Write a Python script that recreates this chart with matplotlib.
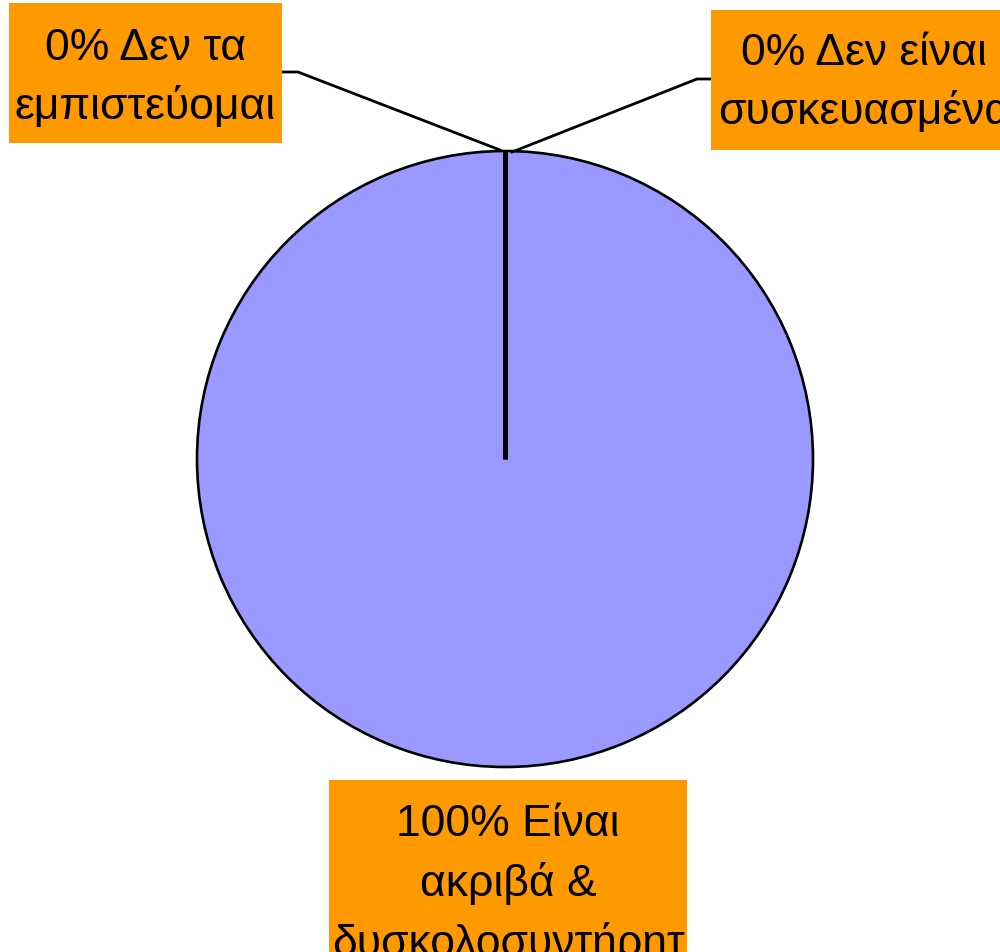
import matplotlib
matplotlib.use("Agg")
import numpy as np
import matplotlib.pyplot as plt
from matplotlib.patches import Rectangle

plt.rcParams['font.family'] = ['Liberation Sans', 'DejaVu Sans']

# Survey answers and their shares (%)
labels = ["Δεν τα\nεμπιστεύομαι", "Δεν είναι\nσυσκευασμένα",
          "Είναι\nακριβά &\nδυσκολοσυντήρητ\nα"]
shares = [0, 0, 100]

W, H = 1000, 953
fig = plt.figure(figsize=(W / 100, H / 100), dpi=100)
ax = fig.add_axes([0, 0, 1, 1])

cx, cy, r = 505, H - 460, 308
wedges, _ = ax.pie(shares, colors=["#9999FF"] * 3, startangle=90,
                   counterclock=False, center=(cx, cy), radius=r,
                   wedgeprops=dict(edgecolor="black", linewidth=1.9))

# radial edges of the empty slices
for w, s in zip(wedges, shares):
    if s == 0:
        a = np.deg2rad(w.theta1)
        ax.plot([cx, cx + r * np.cos(a)], [cy, cy + r * np.sin(a)],
                color="black", lw=3.4, solid_capstyle="butt", zorder=3)

ax.set_xlim(0, W)
ax.set_ylim(0, H)
ax.set_aspect("equal")
ax.axis("off")

fs = 32
ls = 1.5
orange = "#FF9900"
texts = [f"{s}% {l}" for s, l in zip(shares, labels)]
top = (cx, cy + r)


def label_box(x0, y0, x1, y1):
    ax.add_patch(Rectangle((x0, H - y1), x1 - x0, y1 - y0, fc=orange,
                           ec="none", zorder=4))


# left label
label_box(9, 4, 282, 144)
ax.text(145.5, H - 78, texts[0], ha="center", va="center", fontsize=fs,
        linespacing=ls, zorder=5)
ax.plot([282, 298, top[0] - 5], [H - 73, H - 73, top[1] + 1], color="black",
        lw=2.0, zorder=3)

# right label
label_box(711, 11, 1010, 151)
ax.text(864, H - 83, texts[1], ha="center", va="center", fontsize=fs,
        linespacing=ls, zorder=5)
ax.plot([711, 697, top[0] + 7], [H - 80, H - 80, top[1] - 1], color="black",
        lw=2.0, zorder=3)

# bottom label
label_box(329, 781, 687, 1000)
ax.text(508, H - 804, texts[2], ha="center", va="top", fontsize=fs,
        linespacing=ls, zorder=5)

fig.savefig("out.png", dpi=100)
